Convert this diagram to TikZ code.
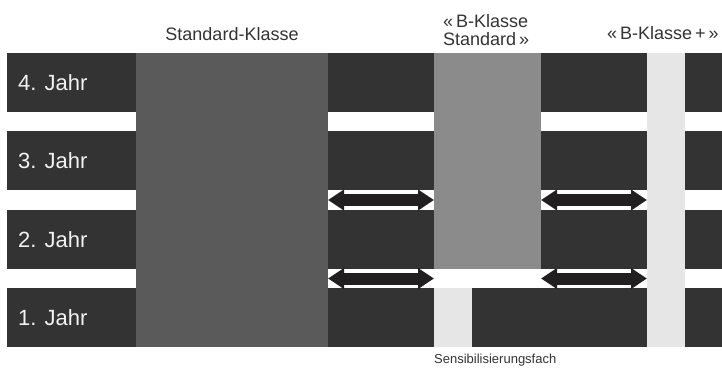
\documentclass[tikz,border=0pt]{standalone}
\usepackage{fontspec}
\setmainfont{Liberation Sans}
\usetikzlibrary{arrows.meta}
\definecolor{barc}{HTML}{333333}
\definecolor{stdc}{HTML}{5A5A5A}
\definecolor{bstdc}{HTML}{8B8B8B}
\definecolor{lightc}{HTML}{E6E6E6}
\definecolor{txtc}{HTML}{333333}
\definecolor{yrc}{HTML}{F2F2F2}
\definecolor{arrc}{HTML}{221F20}
\tikzset{
  box/.style={inner sep=0pt, outer sep=0pt, anchor=north west, draw=none},
  rowbar/.style={box, fill=barc, minimum width=715pt, minimum height=59pt},
  yearlbl/.style={inner sep=0pt, anchor=west, text=yrc, font=\fontsize{22}{22}\selectfont},
  hdr/.style={inner sep=0pt, text=txtc, font=\fontsize{18}{18}\selectfont},
  small/.style={inner sep=0pt, text=txtc, font=\fontsize{13}{13}\selectfont},
  dbl/.style={draw=arrc, line width=12pt,
    {Triangle[length=16pt,width=20pt]}-{Triangle[length=16pt,width=20pt]}}
}
\begin{document}
\begin{tikzpicture}[x=1pt,y=-1pt]
\useasboundingbox (0,0) rectangle (722,367);
% year rows
\node[rowbar] (r4) at (7,53) {};
\node[rowbar] (r3) at (7,131) {};
\node[rowbar] (r2) at (7,210) {};
\node[rowbar] (r1) at (7,288) {};
% columns
\node[box, fill=stdc, minimum width=192pt, minimum height=294pt] (stdcol) at (136,53) {};
\node[box, fill=bstdc, minimum width=107pt, minimum height=216pt] (bstd) at (434,53) {};
\node[box, fill=lightc, minimum width=38pt, minimum height=59pt] (sens) at (434,288) {};
\node[box, fill=lightc, minimum width=38pt, minimum height=294pt] (bplus) at (647,53) {};
% year labels
\node[yearlbl] (l4) at ([xshift=11pt]r4.west) {4. Jahr};
\node[yearlbl] (l3) at ([xshift=11pt]r3.west) {3. Jahr};
\node[yearlbl] (l2) at ([xshift=11pt]r2.west) {2. Jahr};
\node[yearlbl] (l1) at ([xshift=11pt]r1.west) {1. Jahr};
% headers
\node[hdr, anchor=base] (h1) at (232,40) {Standard-Klasse};
\node[hdr, anchor=base west] (h2a) at (443,27) {«\,B-Klasse};
\node[hdr, anchor=base west] (h2b) at (443,45) {Standard\,»};
\node[hdr, anchor=base west] (h3) at (607,39.5) {«\,B-Klasse\,+\,»};
\node[small, anchor=base west] (sl) at (434,363.5) {Sensibilisierungsfach};
% gap coordinates
\coordinate (g32) at (0,200);
\coordinate (g21) at (0,278.5);
% arrows
\draw[dbl] (stdcol.east |- g32) -- (bstd.west |- g32);
\draw[dbl] (bstd.east |- g32) -- (bplus.west |- g32);
\draw[dbl] (stdcol.east |- g21) -- (bstd.west |- g21);
\draw[dbl] (bstd.east |- g21) -- (bplus.west |- g21);
\end{tikzpicture}
\end{document}
